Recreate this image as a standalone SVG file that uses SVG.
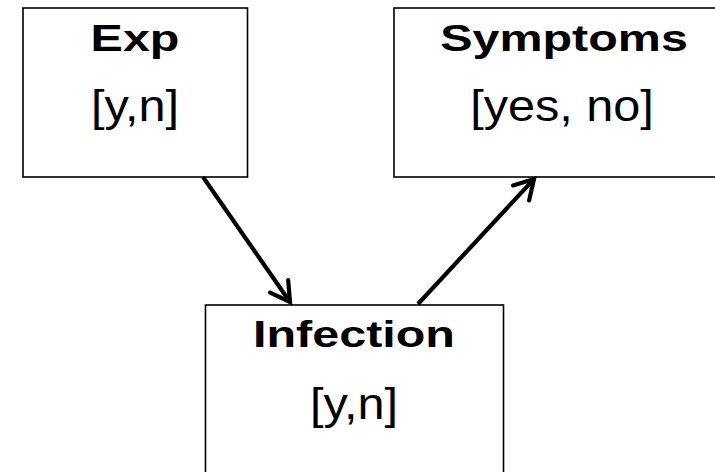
<svg xmlns="http://www.w3.org/2000/svg" width="715" height="472" viewBox="0 0 715 472">
  <style>
    .box { fill: #ffffff; stroke: #000000; stroke-width: 1.6; }
    .title { font-family: "Liberation Sans", Arial, sans-serif; font-weight: bold; font-size: 37px; fill: #000000; text-anchor: middle; }
    .vals { font-family: "Liberation Sans", Arial, sans-serif; font-size: 45px; fill: #000000; text-anchor: middle; }
    .edge { stroke: #000000; stroke-width: 4.2; fill: none; }
  </style>
  <defs>
    <marker id="arrow" markerUnits="userSpaceOnUse" orient="auto" markerWidth="40" markerHeight="40" refX="0" refY="0" viewBox="-30 -20 40 40" overflow="visible">
      <path d="M-19,-11 L0,0 L-19,11" fill="none" stroke="#000000" stroke-width="4.2" stroke-linecap="round" stroke-linejoin="miter"/>
    </marker>
  </defs>
  <rect width="715" height="472" fill="#ffffff"/>

  <g id="node-exp">
    <rect class="box" x="23" y="8" width="224.5" height="169"/>
    <text class="title" transform="translate(135,51) scale(1.31,1)">Exp</text>
    <text class="vals" transform="translate(135,121) scale(1.08,1)">[y,n]</text>
  </g>

  <g id="node-symptoms">
    <rect class="box" x="394" y="8" width="340" height="169"/>
    <text class="title" transform="translate(564,51) scale(1.31,1)">Symptoms</text>
    <text class="vals" transform="translate(562,121) scale(1.08,1)">[yes, no]</text>
  </g>

  <g id="node-infection">
    <rect class="box" x="205.5" y="305" width="298" height="200"/>
    <text class="title" transform="translate(354,347) scale(1.31,1)">Infection</text>
    <text class="vals" transform="translate(354,419) scale(1.08,1)">[y,n]</text>
  </g>

  <g id="connectors">
    <line class="edge" x1="203" y1="177" x2="290" y2="302" marker-end="url(#arrow)"/>
    <line class="edge" x1="418" y1="304" x2="534" y2="179" marker-end="url(#arrow)"/>
  </g>
</svg>
